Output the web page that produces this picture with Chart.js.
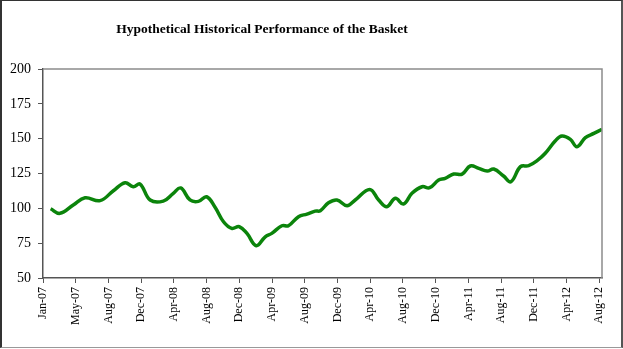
<!DOCTYPE html>
<html>
<head>
<meta charset="utf-8">
<script src="https://cdn.jsdelivr.net/npm/chart.js@4"></script>
<style>
  body { margin: 0; background: #fff; }
  .wrap { position: relative; width: 623px; height: 349px; }
  .frame {
    position: absolute; left: 0; top: 0; width: 623px; height: 348px;
    box-sizing: border-box; pointer-events: none;
    border-left: 2px solid #333; border-top: 1px solid #333;
    border-right: 2px solid #555; border-bottom: 1px solid #999;
  }
</style>
</head>
<body>
<div class="wrap">
  <canvas id="basket" width="623" height="349"></canvas>
  <div class="frame"></div>
</div>
<script>
// days since 1-Jan-2007
const dayOffsets = [28, 62, 111, 154, 209, 258, 301, 331, 356, 393, 441, 478, 505, 539, 570, 600,
  631, 662, 692, 720, 748, 782, 815, 839, 876, 900, 937, 968, 998, 1017, 1047, 1078,
  1115, 1145, 1198, 1231, 1261, 1292, 1322, 1353, 1390, 1418, 1451, 1475, 1506, 1537,
  1567, 1598, 1629, 1653, 1689, 1716, 1751, 1781, 1812, 1842, 1879, 1903, 1934, 1958,
  1989, 2020, 2050];
const basketLevels = [99.7, 96.4, 102.4, 107.6, 105.5, 112.6, 118.4, 115.5, 117.4, 106, 105.2, 110.8,
  114.6, 106, 105, 108.3, 100.8, 90.4, 85.6, 86.8, 82, 73.2, 79.6, 82, 87.5, 87.5, 94,
  95.9, 98, 98.3, 104, 106, 101.9, 106, 113.6, 106, 101.2, 107.2, 103.1, 110.8, 115.5,
  114.8, 120.3, 121.5, 124.6, 124.6, 130.4, 128.7, 126.8, 128.2, 123.2, 119.1, 129.9,
  130.6, 134.2, 139.5, 148.5, 151.9, 149.5, 144.2, 150.7, 153.8, 156.7];
const tickLabels = ["Jan-07", "May-07", "Aug-07", "Dec-07", "Apr-08", "Aug-08", "Dec-08", "Apr-09",
  "Aug-09", "Dec-09", "Apr-10", "Aug-10", "Dec-10", "Apr-11", "Aug-11", "Dec-11", "Apr-12", "Aug-12"];
const tickStep = 120;
const chartTitle = "Hypothetical Historical Performance of the Basket";

const serif = "'Liberation Serif', 'Times New Roman', serif";

// title sits a bit left of centre in the original, so draw it ourselves
const titleAndFrame = {
  id: "titleAndFrame",
  afterDraw(chart) {
    const { ctx, chartArea: a } = chart;
    ctx.save();
    ctx.strokeStyle = "#8c8c8c";
    ctx.lineWidth = 1.5;
    ctx.beginPath();
    ctx.moveTo(a.left, a.top);
    ctx.lineTo(a.right, a.top);
    ctx.lineTo(a.right, a.bottom);
    ctx.stroke();

    ctx.fillStyle = "#000";
    ctx.font = "bold 13.5px " + serif;
    ctx.textAlign = "center";
    ctx.textBaseline = "middle";
    ctx.fillText(chartTitle, 262, 30);
    ctx.restore();
  },
};

new Chart(document.getElementById("basket").getContext("2d"), {
  type: "line",
  data: {
    datasets: [
      {
        label: "Basket",
        data: dayOffsets.map((d, i) => ({ x: d, y: basketLevels[i] })),
        borderColor: "#0b840b",
        borderWidth: 3.5,
        pointRadius: 0,
        tension: 0.4,
      },
    ],
  },
  options: {
    responsive: false,
    animation: false,
    layout: { padding: { top: 69, left: 4, right: 21, bottom: 0 } },
    plugins: {
      legend: { display: false },
      tooltip: { enabled: false },
      title: { display: false },
    },
    scales: {
      x: {
        type: "linear",
        min: 0,
        max: 2050,
        afterBuildTicks: (scale) => {
          scale.ticks = tickLabels.map((_, i) => ({ value: i * tickStep }));
        },
        afterFit: (scale) => { scale.height = 71; },
        grid: { drawOnChartArea: false, color: "#555", tickLength: 5 },
        border: { color: "#555", width: 1.5 },
        ticks: {
          autoSkip: false,
          maxRotation: 90,
          minRotation: 90,
          padding: 4,
          color: "#000",
          font: { family: serif, size: 12 },
          callback: (v) => tickLabels[Math.round(v / tickStep)],
        },
      },
      y: {
        min: 50,
        max: 200,
        afterFit: (scale) => { scale.width = 39; },
        grid: { drawOnChartArea: false, color: "#555", tickLength: 5 },
        border: { color: "#555", width: 1.5 },
        ticks: {
          stepSize: 25,
          padding: 7,
          color: "#000",
          font: { family: serif, size: 14 },
        },
      },
    },
  },
  plugins: [titleAndFrame],
});
</script>
</body>
</html>
